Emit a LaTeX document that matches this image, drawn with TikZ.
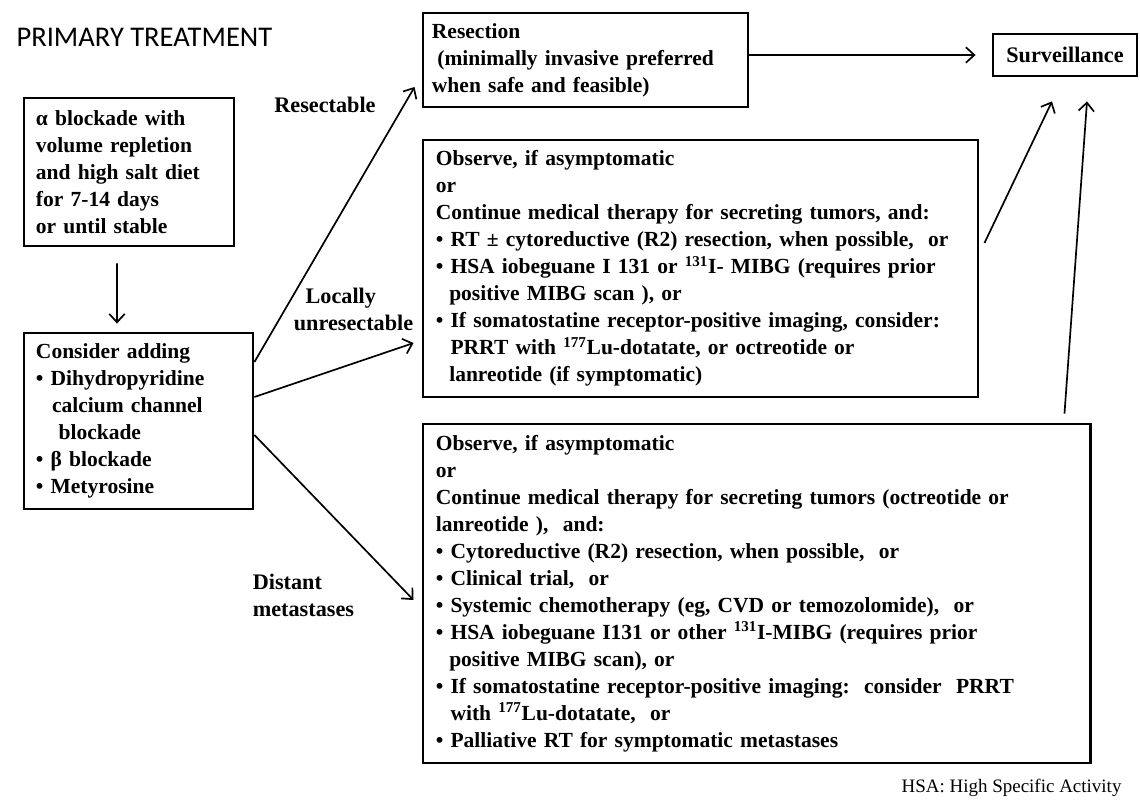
\documentclass[tikz,border=0pt]{standalone}
\usepackage{fontspec}
\setmainfont{Liberation Serif}
\newfontfamily\titlefont{Carlito}
\usepackage{tikz}
\usetikzlibrary{arrows.meta}

\newcommand{\bul}{\makebox[0.68em][l]{\textbullet}}
\newcommand{\ind}{\hspace*{0.62em}}

\begin{document}
\begin{tikzpicture}[->,>={Straight Barb[length=6pt,width=11pt]},line width=1.2pt,x=0.025cm,y=-0.025cm]
  \tikzstyle{box}=[draw,-,line width=2pt,inner sep=0pt,align=left,
                   font=\bfseries\fontsize{15.3}{19.2}\selectfont]
  \tikzstyle{branch}=[inner sep=0pt,font=\bfseries\fontsize{15.8}{19.2}\selectfont]

  \useasboundingbox (0,0) rectangle (1140,800);

  \node[anchor=west,font=\titlefont\fontsize{20.3}{24}\selectfont] (title) at (11,37) {PRIMARY TREATMENT};

  % left column
  \node[box,minimum width=5.25cm,minimum height=3.7cm,text width=4.65cm] (alpha) at (129,172)
    {α blockade with\\volume repletion\\and high salt diet\\for 7-14 days\\or until stable};
  \node[box,minimum width=5.725cm,minimum height=4.4cm,text width=5.125cm] (cons) at (138.5,421)
    {Consider adding\\
     \bul Dihydropyridine\\
     \hspace*{0.75em}calcium channel\\
     \hspace*{1.05em}blockade\\
     \bul β blockade\\
     \bul Metyrosine};

  % right column
  \node[box,minimum width=8.125cm,minimum height=2.35cm,text width=7.675cm] (resec) at (585.5,60)
    {Resection\\
     \hspace*{0.25em}(minimally invasive preferred\\
     when safe and feasible)};
  \node[box,minimum width=13.875cm,minimum height=6.425cm,text width=13.225cm] (local) at (700.5,268.5)
    {Observe, if asymptomatic\\
     or\\
     Continue medical therapy for secreting tumors, and:\\
     \bul RT ± cytoreductive (R2) resection, when possible,\ \ or\\
     \bul HSA iobeguane I 131 or \textsuperscript{131}I- MIBG (requires prior\\
     \ind positive MIBG scan ), or\\
     \bul If somatostatine receptor-positive imaging, consider:\\
     \hspace*{0.68em}PRRT with \textsuperscript{177}Lu-dotatate, or octreotide or\\
     \ind lanreotide (if symptomatic)};
  \node[box,minimum width=16.675cm,minimum height=8.475cm,text width=16.025cm] (dist) at (756.5,593.5)
    {Observe, if asymptomatic\\
     or\\
     Continue medical therapy for secreting tumors (octreotide or\\
     lanreotide ),\ \ and:\\
     \bul Cytoreductive (R2) resection, when possible,\ \ or\\
     \bul Clinical trial,\ \ or\\
     \bul Systemic chemotherapy (eg, CVD or temozolomide),\ \ or\\
     \bul HSA iobeguane I131 or other \textsuperscript{131}I-MIBG (requires prior\\
     \ind positive MIBG scan), or\\
     \bul If somatostatine receptor-positive imaging:\ \ consider\ \ PRRT\\
     \hspace*{0.68em}with \textsuperscript{177}Lu-dotatate,\ \ or\\
     \bul Palliative RT for symptomatic metastases};
  \node[box,align=center,minimum width=3.6cm,minimum height=1.05cm,font=\bfseries\fontsize{15.8}{19.2}\selectfont] (surv) at (1065,55) {Surveillance};

  % branch labels
  \node[branch] (resectable) at (325,105) {Resectable};
  \node[branch,align=left,anchor=west] (locally) at (293,309) {\hspace*{0.53em}Locally\\unresectable};
  \node[branch,align=left,anchor=west] (distant) at (252,595) {Distant\\metastases};

  \node[anchor=east,font=\fontsize{13.5}{16}\selectfont] (note) at (1127,788) {HSA: High Specific Activity};

  \path ([xshift=-0.3cm,yshift=-0.4cm]alpha.south) edge ([xshift=-0.5375cm,yshift=0.2cm]cons.north)
        ([yshift=1.475cm]cons.east) edge ([xshift=-0.175cm,yshift=-0.675cm]resec.west)
        ([yshift=0.6cm]cons.east) edge ([xshift=-0.2cm,yshift=-1.8625cm]local.west)
        ([yshift=-0.35cm]cons.east) edge ([xshift=-0.2cm,yshift=-0.1625cm]dist.west);
  \path (resec.east |- surv.west) edge ([xshift=-0.4cm]surv.west)
        ([xshift=0.125cm,yshift=0.6375cm]local.east) edge ([xshift=-0.325cm,yshift=-0.6cm]surv.south)
        ([xshift=-0.675cm,yshift=0.225cm]dist.north east) edge ([xshift=0.55cm,yshift=-0.6cm]surv.south);
\end{tikzpicture}
\end{document}
